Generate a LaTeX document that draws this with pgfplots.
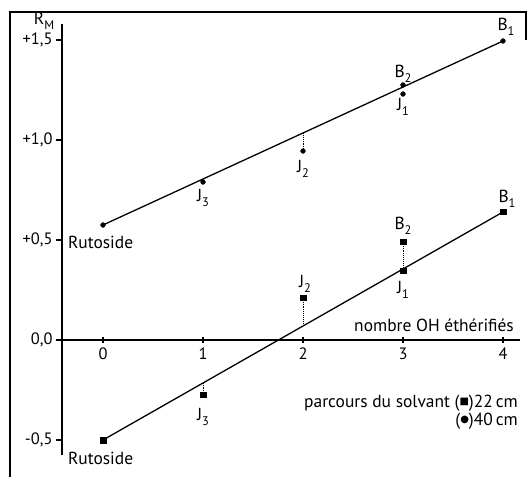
\documentclass[border=0pt]{standalone}
\usepackage{pgfplots}
\pgfplotsset{compat=1.18}
\usepackage{fontspec}
\setmainfont{PT Sans}
\newfontfamily\dejavu{DejaVu Sans}
\newcommand{\sub}[2]{#1\raisebox{-0.5ex}{\fontsize{12.5}{12.5}\selectfont #2}}
\newcommand{\sym}[1]{\raisebox{0.35ex}{\dejavu\fontsize{10}{10}\selectfont #1}}
\begin{document}
\begin{tikzpicture}[font=\fontsize{17.5}{20}\selectfont]
\begin{axis}[
  x=100bp, y=200bp,
  xmin=-0.41, xmax=4.17, ymin=-0.575, ymax=1.58,
  axis x line=middle, axis y line=left,
  every inner x axis line/.append style={-},
  every outer y axis line/.append style={-},
  axis line style={line width=1.2bp},
  xtick={0,1,2,3,4}, xticklabels={0,1,2,3,4},
  ytick={-0.5,0,0.5,1,1.5},
  yticklabels={{-0,5},{0,0},{+0,5},{+1,0},{+1,5\hspace{14bp}}},
  xtick align=center, ytick align=outside,
  major tick length=6bp,
  tick style={line width=1.1bp, black},
  ticklabel style={font=\fontsize{16.5}{19}\selectfont},
  xticklabel style={yshift=-1bp},
  clip=false,
]
% frame
\path (axis cs:-1.03,-0.685) rectangle (axis cs:4.24,1.70);
\draw[line width=1.1bp] (axis cs:-0.93,-0.685) -- (axis cs:-0.93,1.64) -- (axis cs:4.23,1.64) -- (axis cs:4.23,1.50);

% upper series (40 cm)
\addplot[black, line width=1.3bp] coordinates {(0,0.575) (4,1.495)};
\addplot[black, densely dotted, line width=0.9bp] coordinates {(2,0.945) (2,1.035)};
\addplot[only marks, mark=*, mark size=2.4bp, black] coordinates {(0,0.575) (1,0.79) (2,0.945) (3,1.275) (3,1.23) (4,1.495)};

% lower series (22 cm)
\addplot[black, line width=1.3bp] coordinates {(0,-0.5) (4,0.64)};
\addplot[black, densely dotted, line width=0.9bp] coordinates {(1,-0.275) (1,-0.215)};
\addplot[black, densely dotted, line width=0.9bp] coordinates {(2,0.21) (2,0.07)};
\addplot[black, densely dotted, line width=0.9bp] coordinates {(3,0.49) (3,0.345)};
\addplot[only marks, mark=square*, mark size=2.7bp, black] coordinates {(0,-0.5) (1,-0.275) (2,0.21) (3,0.345) (3,0.49) (4,0.64)};

% labels upper
\node[anchor=west, inner sep=0pt] at (axis cs:-0.35,0.49) {Rutoside};
\node at (axis cs:1,0.71) {\sub{J}{3}};
\node at (axis cs:2,0.855) {\sub{J}{2}};
\node at (axis cs:3,1.33) {\sub{B}{2}};
\node at (axis cs:3,1.165) {\sub{J}{1}};
\node at (axis cs:4.03,1.565) {\sub{B}{1}};
% labels lower
\node[anchor=west, inner sep=0pt] at (axis cs:-0.35,-0.59) {Rutoside};
\node at (axis cs:1,-0.385) {\sub{J}{3}};
\node at (axis cs:2.02,0.28) {\sub{J}{2}};
\node at (axis cs:3,0.57) {\sub{B}{2}};
\node at (axis cs:3,0.25) {\sub{J}{1}};
\node at (axis cs:4.04,0.705) {\sub{B}{1}};

% axis titles
\node[inner sep=0pt] at (axis cs:-0.59,1.595) {R\raisebox{-0.6ex}{\fontsize{12.5}{12.5}\selectfont M}};
\node[anchor=east, inner sep=0pt] at (axis cs:4.11,0.075) {nombre OH éthérifiés};
\node[anchor=east, inner sep=0pt] at (axis cs:4.15,-0.315) {parcours du solvant (\sym{■})22\,cm};
\node[anchor=east, inner sep=0pt] at (axis cs:4.15,-0.405) {(\sym{●})40\,cm};
\end{axis}
\end{tikzpicture}
\end{document}
